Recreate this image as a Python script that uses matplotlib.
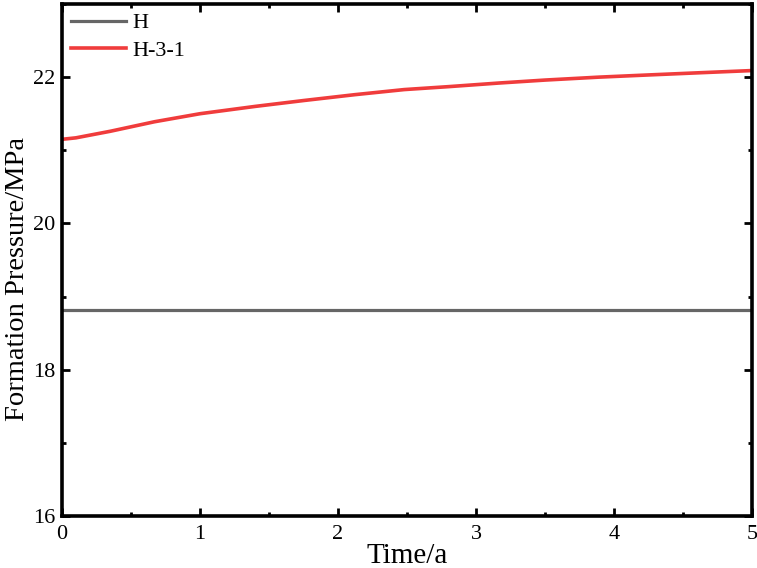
import numpy as np
import matplotlib.pyplot as plt
from matplotlib.ticker import MultipleLocator

# Data
t_h = [0, 5]
p_h = [18.82, 18.82]

t_h31 = [0, 0.1, 0.35, 0.67, 1.0, 1.4, 1.75, 2.12, 2.48, 2.8, 3.17, 3.5, 3.89, 4.25, 4.62, 5.0]
p_h31 = [21.15, 21.17, 21.26, 21.39, 21.50, 21.60, 21.68, 21.76, 21.83, 21.87, 21.92, 21.96, 22.00, 22.03, 22.06, 22.09]

plt.rcParams['font.family'] = ['Liberation Serif', 'DejaVu Serif']

fig = plt.figure(figsize=(7.57, 5.68), dpi=100)
ax = fig.add_axes([62/757, 1-516/568, (752-62)/757, (516-4)/568])

ax.plot(t_h, p_h, color='#666666', lw=2.3, label='H')
ax.plot(t_h31, p_h31, color='#f03c3c', lw=2.6, label='H-3-1')

ax.set_xlim(0, 5)
ax.set_ylim(16, 23)
ax.xaxis.set_major_locator(MultipleLocator(1))
ax.xaxis.set_minor_locator(MultipleLocator(0.5))
ax.yaxis.set_major_locator(MultipleLocator(2))
ax.yaxis.set_minor_locator(MultipleLocator(1))
ax.tick_params(which='both', direction='in', top=True, right=True,
               labelsize=16, width=2)
ax.tick_params(axis='x', which='both', pad=6.5)
ax.tick_params(axis='y', which='both', pad=5)
ax.tick_params(which='major', length=6)
ax.tick_params(which='minor', length=3)
for s in ax.spines.values():
  s.set_linewidth(2.6)

ax.set_xlabel('Time/a', fontsize=21, labelpad=-1)
ax.set_ylabel('Formation Pressure/MPa', fontsize=20.5)
ax.yaxis.set_label_coords(-0.046, 0.463)

ax.legend(loc='upper left', frameon=False, fontsize=16, handlelength=2.5,
          handletextpad=0.25, borderaxespad=0.2, borderpad=0.2,
          labelspacing=0.3)

fig.savefig('out.png', dpi=100)
